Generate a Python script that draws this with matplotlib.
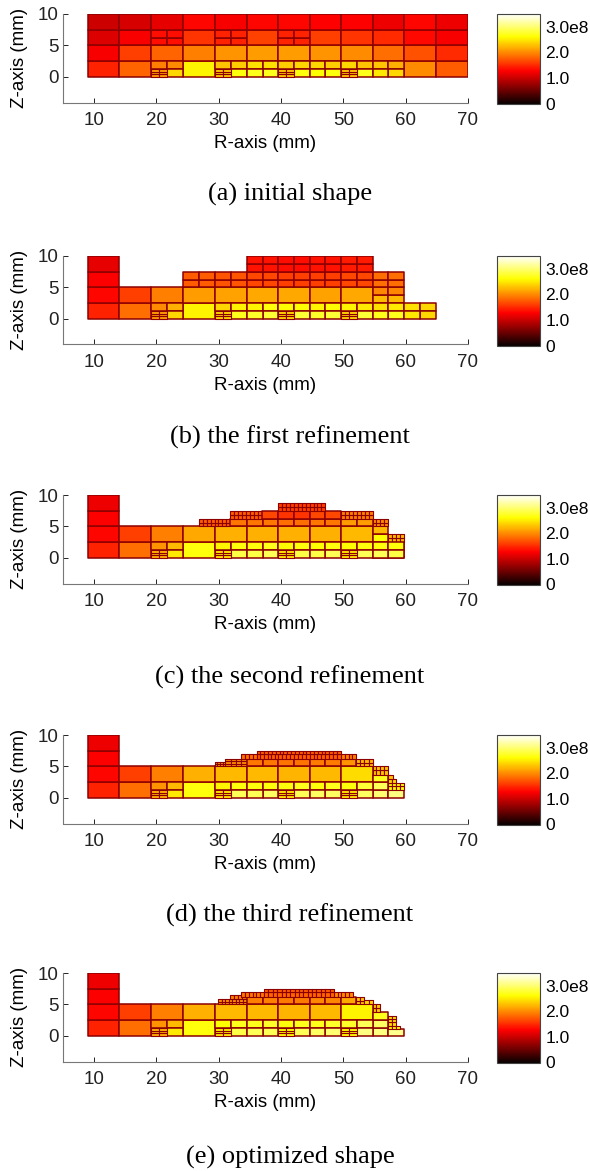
import matplotlib
matplotlib.use("Agg")
import matplotlib.pyplot as plt
from matplotlib.collections import PatchCollection
from matplotlib.colors import Normalize
from matplotlib.patches import Rectangle

# column edges of the coarse mesh (mm)
r_edges = [9, 14, 19.2, 24.3, 29.4, 34.5, 39.6, 44.6, 49.6, 54.7, 59.8, 64.9, 70]

captions = ["(a) initial shape", "(b) the first refinement", "(c) the second refinement",
            "(d) the third refinement", "(e) optimized shape"]
x_ticks = [10, 20, 30, 40, 50, 60, 70]
y_ticks = [0, 5, 10]
cbar_ticks = [0, 1, 2, 3]
cbar_labels = ["0", "1.0", "2.0", "3.0e8"]

# bottom row columns: column index, has fine corner, upper values, lower values
bottom_a = [(2, True, (1.95, 2.0), (2.1, 2.4)), (4, True, (2.3, 2.35), (2.3, 2.65)),
            (5, False, (2.45, 2.45), (2.7, 2.7)), (6, True, (2.35, 2.4), (2.3, 2.65)),
            (7, False, (2.4, 2.35), (2.6, 2.65)), (8, True, (2.4, 2.3), (2.3, 2.7)),
            (9, False, (2.3, 2.2), (2.5, 2.4))]
bottom_b = [(2, True, (2.0, 2.2), (2.1, 2.4)), (4, True, (2.4, 2.55), (2.4, 2.7)),
            (5, False, (2.55, 2.65), (2.75, 2.8)), (6, True, (2.6, 2.6), (2.4, 2.8)),
            (7, False, (2.55, 2.6), (2.75, 2.8)), (8, True, (2.55, 2.5), (2.4, 2.8)),
            (9, False, (2.45, 2.5), (2.7, 2.7)), (10, False, (2.45, 2.4), (2.5, 2.4))]
bottom_c = [(2, True, (2.05, 2.25), (2.2, 2.5)), (4, True, (2.55, 2.65), (2.5, 2.85)),
            (5, False, (2.65, 2.7), (2.85, 2.9)), (6, True, (2.6, 2.65), (2.5, 2.85)),
            (7, False, (2.6, 2.65), (2.85, 2.9)), (8, True, (2.6, 2.65), (2.5, 2.9)),
            (9, False, (2.65, 2.65), (2.9, 2.85))]
bottom_d = [(2, True, (2.05, 2.25), (2.2, 2.5)), (4, True, (2.55, 2.65), (2.5, 2.9)),
            (5, False, (2.65, 2.65), (2.9, 2.95)), (6, True, (2.65, 2.7), (2.5, 2.9)),
            (7, False, (2.65, 2.7), (2.95, 2.95)), (8, True, (2.65, 2.8), (2.5, 2.95))]
bottom_e = [(2, True, (2.05, 2.25), (2.2, 2.5)), (4, True, (2.6, 2.7), (2.5, 2.85)),
            (5, False, (2.7, 2.75), (2.9, 2.9)), (6, True, (2.65, 2.7), (2.6, 2.9)),
            (7, False, (2.7, 2.75), (2.95, 3.0)), (8, True, (2.75, 2.9), (2.6, 3.05))]

# other cells: r0, r1, z0, z1, n cells along r, n cells along z, value
cells_a = [
    (9, 14, 0, 2.5, 1, 1, 1.45), (9, 14, 2.5, 5, 1, 1, 1.25), (9, 14, 5, 7.5, 1, 1, 1.1), (9, 14, 7.5, 10, 1, 1, 1.02),
    (14, 19.2, 0, 2.5, 1, 1, 1.8), (14, 19.2, 2.5, 5, 1, 1, 1.6), (14, 19.2, 5, 7.5, 1, 1, 1.25), (14, 19.2, 7.5, 10, 1, 1, 1.08),
    (19.2, 24.3, 2.5, 5, 1, 1, 1.8), (19.2, 24.3, 5, 7.5, 2, 2, 1.35), (19.2, 24.3, 7.5, 10, 1, 1, 1.15),
    (24.3, 29.4, 0, 2.5, 1, 1, 2.55), (24.3, 29.4, 2.5, 5, 1, 1, 1.95), (24.3, 29.4, 5, 7.5, 1, 1, 1.55), (24.3, 29.4, 7.5, 10, 1, 1, 1.3),
    (29.4, 34.5, 2.5, 5, 1, 1, 2.05), (29.4, 34.5, 5, 7.5, 2, 2, 1.45), (29.4, 34.5, 7.5, 10, 1, 1, 1.25),
    (34.5, 39.6, 2.5, 5, 1, 1, 2.1), (34.5, 39.6, 5, 7.5, 1, 1, 1.62), (34.5, 39.6, 7.5, 10, 1, 1, 1.3),
    (39.6, 44.6, 2.5, 5, 1, 1, 2.1), (39.6, 44.6, 5, 7.5, 2, 2, 1.45), (39.6, 44.6, 7.5, 10, 1, 1, 1.3),
    (44.6, 49.6, 2.5, 5, 1, 1, 2.05), (44.6, 49.6, 5, 7.5, 1, 1, 1.6), (44.6, 49.6, 7.5, 10, 1, 1, 1.28),
    (49.6, 54.7, 2.5, 5, 1, 1, 2.0), (49.6, 54.7, 5, 7.5, 1, 1, 1.55), (49.6, 54.7, 7.5, 10, 1, 1, 1.28),
    (54.7, 59.8, 2.5, 5, 1, 1, 1.85), (54.7, 59.8, 5, 7.5, 1, 1, 1.5), (54.7, 59.8, 7.5, 10, 1, 1, 1.2),
    (59.8, 64.9, 0, 2.5, 1, 1, 2.0), (59.8, 64.9, 2.5, 5, 1, 1, 1.7), (59.8, 64.9, 5, 7.5, 1, 1, 1.32), (59.8, 64.9, 7.5, 10, 1, 1, 1.3),
    (64.9, 70, 0, 2.5, 1, 1, 1.75), (64.9, 70, 2.5, 5, 1, 1, 1.5), (64.9, 70, 5, 7.5, 1, 1, 1.25), (64.9, 70, 7.5, 10, 1, 1, 1.2),
]
cells_b = [
    (9, 14, 0, 2.5, 1, 1, 1.45), (9, 14, 2.5, 5, 1, 1, 1.3), (9, 14, 5, 7.5, 1, 1, 1.27), (9, 14, 7.5, 10, 1, 1, 1.15),
    (14, 19.2, 0, 2.5, 1, 1, 1.85), (14, 19.2, 2.5, 5, 1, 1, 1.6),
    (19.2, 24.3, 2.5, 5, 1, 1, 1.95),
    (24.3, 29.4, 0, 2.5, 1, 1, 2.55), (24.3, 29.4, 2.5, 5, 1, 1, 2.1), (24.3, 29.4, 5, 7.5, 2, 2, 1.75),
    (29.4, 34.5, 2.5, 5, 1, 1, 2.12), (29.4, 34.5, 5, 7.5, 2, 2, 1.72),
    (34.5, 39.6, 2.5, 5, 1, 1, 2.15), (34.5, 39.6, 5, 7.5, 2, 2, 1.65), (34.5, 39.6, 7.5, 10, 2, 2, 1.38),
    (39.6, 44.6, 2.5, 5, 1, 1, 2.15), (39.6, 44.6, 5, 7.5, 2, 2, 1.6), (39.6, 44.6, 7.5, 10, 2, 2, 1.35),
    (44.6, 49.6, 2.5, 5, 1, 1, 2.12), (44.6, 49.6, 5, 7.5, 2, 2, 1.6), (44.6, 49.6, 7.5, 10, 2, 2, 1.38),
    (49.6, 54.7, 2.5, 5, 1, 1, 2.15), (49.6, 54.7, 5, 7.5, 2, 2, 1.65), (49.6, 54.7, 7.5, 10, 2, 2, 1.42),
    (54.7, 59.8, 2.5, 3.75, 2, 1, 2.25), (54.7, 59.8, 3.75, 5, 2, 1, 1.98), (54.7, 59.8, 5, 7.5, 2, 2, 1.85),
]
cells_c = [
    (9, 14, 0, 2.5, 1, 1, 1.45), (9, 14, 2.5, 5, 1, 1, 1.3), (9, 14, 5, 7.5, 1, 1, 1.27), (9, 14, 7.5, 10, 1, 1, 1.2),
    (14, 19.2, 0, 2.5, 1, 1, 1.85), (14, 19.2, 2.5, 5, 1, 1, 1.6),
    (19.2, 24.3, 2.5, 5, 1, 1, 1.95),
    (24.3, 29.4, 0, 2.5, 1, 1, 2.65), (24.3, 29.4, 2.5, 5, 1, 1, 2.15),
    (29.4, 34.5, 2.5, 5, 1, 1, 2.2), (34.5, 39.6, 2.5, 5, 1, 1, 2.2), (39.6, 44.6, 2.5, 5, 1, 1, 2.2),
    (44.6, 49.6, 2.5, 5, 1, 1, 2.2), (49.6, 54.7, 2.5, 5, 1, 1, 2.25),
    (26.8, 31.9, 5, 6.2, 8, 2, 1.75),
    (31.9, 34.5, 5, 6.2, 1, 1, 1.9), (34.5, 39.6, 5, 6.2, 2, 1, 1.9), (39.6, 44.6, 5, 6.2, 2, 1, 1.85),
    (44.6, 49.6, 5, 6.2, 2, 1, 1.9), (49.6, 54.7, 5, 6.2, 2, 1, 2.1),
    (31.9, 37, 6.2, 7.5, 8, 2, 1.75), (37, 39.6, 6.2, 7.5, 1, 1, 1.65),
    (39.6, 44.6, 6.2, 7.5, 2, 1, 1.55), (44.6, 49.6, 6.2, 7.5, 2, 1, 1.65), (49.6, 54.7, 6.2, 7.5, 8, 2, 1.95),
    (39.6, 47.1, 7.5, 8.7, 12, 2, 1.6),
    (54.7, 57.2, 0, 1.2, 1, 1, 2.95), (54.7, 57.2, 1.2, 2.5, 1, 1, 2.85),
    (57.2, 59.8, 0, 1.2, 1, 1, 2.95), (57.2, 59.8, 1.2, 2.5, 1, 1, 2.8),
    (54.7, 57.2, 2.5, 3.75, 1, 1, 2.6), (54.7, 57.2, 3.75, 5, 1, 1, 2.25), (54.7, 57.2, 5, 6.2, 4, 2, 2.0),
    (57.2, 59.8, 2.5, 3.8, 4, 2, 2.25),
]
cells_d = [
    (9, 14, 0, 2.5, 1, 1, 1.45), (9, 14, 2.5, 5, 1, 1, 1.3), (9, 14, 5, 7.5, 1, 1, 1.27), (9, 14, 7.5, 10, 1, 1, 1.2),
    (14, 19.2, 0, 2.5, 1, 1, 1.85), (14, 19.2, 2.5, 5, 1, 1, 1.6),
    (19.2, 24.3, 2.5, 5, 1, 1, 1.95),
    (24.3, 29.4, 0, 2.5, 1, 1, 2.65), (24.3, 29.4, 2.5, 5, 1, 1, 2.2),
    (29.4, 34.5, 2.5, 5, 1, 1, 2.25), (34.5, 39.6, 2.5, 5, 1, 1, 2.25), (39.6, 44.6, 2.5, 5, 1, 1, 2.22),
    (44.6, 49.6, 2.5, 5, 1, 1, 2.25), (49.6, 54.7, 2.5, 5, 1, 1, 2.42),
    (29.4, 31.1, 5, 5.7, 4, 2, 2.1), (31.1, 34.5, 5, 6.2, 4, 3, 2.0),
    (34.5, 39.6, 5, 6.2, 2, 1, 1.9), (39.6, 44.6, 5, 6.2, 2, 1, 1.88), (44.6, 49.6, 5, 6.2, 2, 1, 1.92),
    (49.6, 52.1, 5, 6.2, 1, 1, 2.05), (52.1, 54.7, 5, 6.2, 4, 2, 2.25),
    (33.6, 36.1, 6.2, 6.9, 4, 1, 1.85), (36.1, 39.6, 6.2, 6.9, 6, 1, 1.75), (39.6, 49.6, 6.2, 6.9, 16, 1, 1.75),
    (49.6, 52.1, 6.2, 6.9, 4, 1, 1.95),
    (36.1, 49.6, 6.9, 7.5, 22, 1, 1.75),
    (54.7, 57.2, 0, 1.2, 1, 1, 3.0), (54.7, 57.2, 1.2, 2.5, 1, 1, 2.9),
    (57.2, 59.8, 0, 1.2, 1, 1, 3.05), (54.7, 57.2, 2.5, 3.7, 1, 1, 2.7), (54.7, 57.2, 3.7, 5, 4, 2, 2.3),
    (57.2, 59.8, 1.2, 2.4, 4, 2, 2.6), (57.2, 58.4, 2.4, 3.0, 2, 1, 2.4), (57.2, 57.9, 3.0, 3.7, 1, 1, 2.3),
]
cells_e = [
    (9, 14, 0, 2.5, 1, 1, 1.45), (9, 14, 2.5, 5, 1, 1, 1.3), (9, 14, 5, 7.5, 1, 1, 1.27), (9, 14, 7.5, 10, 1, 1, 1.2),
    (14, 19.2, 0, 2.5, 1, 1, 1.85), (14, 19.2, 2.5, 5, 1, 1, 1.6),
    (19.2, 24.3, 2.5, 5, 1, 1, 1.95),
    (24.3, 29.4, 0, 2.5, 1, 1, 2.65), (24.3, 29.4, 2.5, 5, 1, 1, 2.2),
    (29.4, 34.5, 2.5, 5, 1, 1, 2.25), (34.5, 39.6, 2.5, 5, 1, 1, 2.25), (39.6, 44.6, 2.5, 5, 1, 1, 2.22),
    (44.6, 49.6, 2.5, 5, 1, 1, 2.25), (49.6, 54.7, 2.5, 5, 1, 1, 2.55),
    (29.9, 34.5, 5, 5.8, 8, 2, 2.05), (31.8, 34.5, 5.8, 6.5, 4, 1, 1.95),
    (34.5, 39.6, 5, 6.2, 2, 1, 1.95), (39.6, 44.6, 5, 6.2, 2, 1, 1.92), (44.6, 49.6, 5, 6.2, 2, 1, 1.97),
    (49.6, 52.1, 5, 6.2, 1, 1, 2.15), (52.1, 53.4, 5, 6.2, 2, 2, 2.3), (53.4, 54.7, 5, 5.7, 2, 1, 2.4),
    (33.6, 37.3, 6.2, 7.0, 6, 1, 1.9), (48.5, 51.5, 6.2, 7.0, 5, 1, 2.0),
    (37.3, 48.5, 6.2, 7.0, 16, 1, 1.8), (37.3, 48.5, 7.0, 7.5, 16, 1, 1.75),
    (54.7, 57.2, 0, 1.2, 1, 1, 3.05), (54.7, 57.2, 1.2, 2.5, 1, 1, 2.95),
    (57.2, 59.8, 0, 1.0, 1, 1, 3.1), (54.7, 57.2, 2.5, 3.8, 1, 1, 2.7),
    (54.7, 55.9, 3.8, 5, 2, 2, 2.35),
    (57.2, 59.1, 1.0, 1.6, 3, 1, 2.6), (57.2, 58.4, 1.6, 3.2, 2, 3, 2.45),
]

panel_bottoms = [bottom_a, bottom_b, bottom_c, bottom_d, bottom_e]
panel_cells = [cells_a, cells_b, cells_c, cells_d, cells_e]

W, H = 590, 1171
axes_tops = [14, 256, 495, 735, 973]   # pixel row of z = 10
caption_y = [194, 437, 677, 915, 1157]
edge = "#8c0000"


def expand_cell(cell):
    r0, r1, z0, z1, nr, nz, val = cell
    dr, dz = (r1 - r0) / nr, (z1 - z0) / nz
    return [(r0 + i * dr, z0 + j * dz, dr, dz, val) for i in range(nr) for j in range(nz)]


def expand_bottom(col):
    idx, fine, upper, lower = col
    r0, r1 = r_edges[idx], r_edges[idx + 1]
    rm = (r0 + r1) / 2
    rows = [(r0, rm, 1.25, 2.5, 1, 1, upper[0]), (rm, r1, 1.25, 2.5, 1, 1, upper[1]),
            (rm, r1, 0, 1.25, 1, 1, lower[1])]
    if fine:
        rows.append((r0, rm, 0, 1.25, 2, 3, lower[0]))
    else:
        rows.append((r0, rm, 0, 1.25, 1, 1, lower[0]))
    return rows


plt.rcParams["font.family"] = ["Liberation Sans", "DejaVu Sans"]
fig = plt.figure(figsize=(W / 100, H / 100), dpi=100)
norm = Normalize(0, 3.5)

for top, cap_y, bottom, cells, caption in zip(axes_tops, caption_y, panel_bottoms, panel_cells, captions):
    ax = fig.add_axes([63 / W, 1 - (top + 88.5) / H, 405 / W, 88.5 / H])
    rects, vals, widths = [], [], []
    for cell in cells + [c for col in bottom for c in expand_bottom(col)]:
        for r, z, dr, dz, val in expand_cell(cell):
            rects.append(Rectangle((r, z), dr, dz))
            vals.append(val)
            widths.append(0.8 if dz < 0.8 or dr < 1 else 1.1)
    coll = PatchCollection(rects, cmap="hot", norm=norm, edgecolor=edge, linewidths=widths)
    coll.set_array(vals)
    ax.add_collection(coll)
    ax.set_xlim(5.05, 70)
    ax.set_ylim(-4.1, 10)
    ax.set_xticks(x_ticks)
    ax.set_yticks(y_ticks)
    ax.tick_params(direction="in", length=3.5, width=0.7, labelsize=13.5, colors="#222222")
    ax.tick_params(axis="x", pad=7)
    ax.tick_params(axis="y", pad=3)
    ax.set_xlabel("R-axis (mm)", fontsize=13.5, labelpad=4)
    ax.set_ylabel("Z-axis (mm)", fontsize=13.5, labelpad=7)
    ax.spines["top"].set_visible(False)
    ax.spines["right"].set_visible(False)
    ax.spines["left"].set_color("#777777")
    ax.spines["bottom"].set_color("#777777")
    ax.patch.set_alpha(0)

    cax = fig.add_axes([497 / W, 1 - (top + 89.5) / H, 43 / W, 89.5 / H])
    cb = fig.colorbar(coll, cax=cax)
    cb.set_ticks(cbar_ticks)
    cb.set_ticklabels(cbar_labels)
    cb.ax.tick_params(length=0, labelsize=12.5, pad=4)
    cb.outline.set_edgecolor("#444444")
    cb.outline.set_linewidth(0.8)

    fig.text(290 / W, 1 - cap_y / H, caption, ha="center", va="center",
             family="Liberation Serif", fontsize=19)

fig.savefig("out.png", dpi=100)
